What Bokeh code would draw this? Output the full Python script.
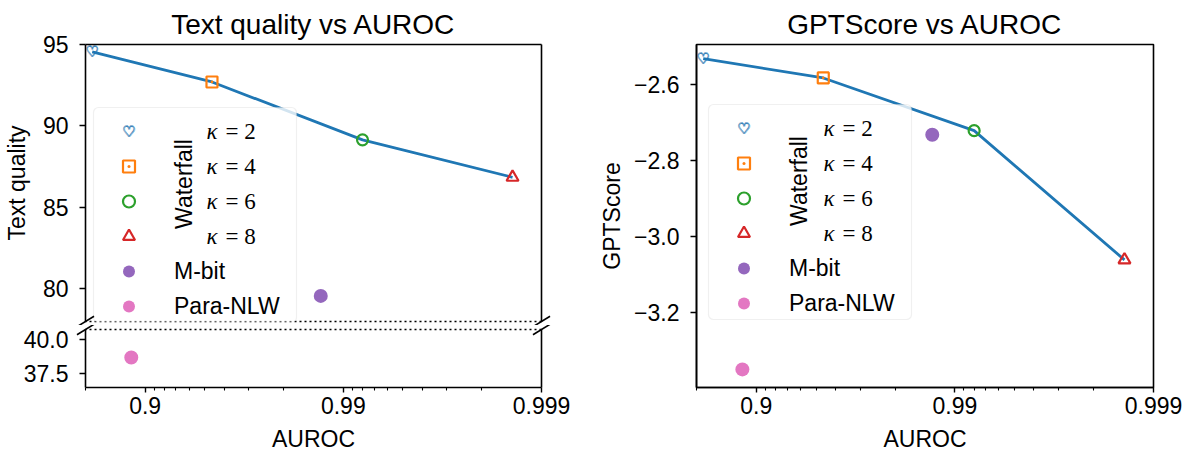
import math
from bokeh.plotting import figure
from bokeh.layouts import row, column
from bokeh.models import (Range1d, FixedTicker, CustomJSTickFormatter, LinearAxis,
                          Legend, LegendItem, Label, BoxAnnotation)
from bokeh.core.properties import value
from bokeh.embed import file_html
from bokeh.resources import INLINE

# ---------------- data ----------------
kappa = [2, 4, 6, 8]
waterfall_auroc = [0.815, 0.954, 0.992, 0.9986]
waterfall_text_quality = [94.55, 92.70, 89.15, 86.85]
waterfall_gptscore = [-2.531, -2.582, -2.721, -3.062]

mbit_auroc = [0.987]
mbit_text_quality = [79.57]
mbit_gptscore = [-2.732]

paranlw_auroc = [0.8825]
paranlw_text_quality = [38.68]
paranlw_gptscore = [-3.351]

auroc_limits = [0.8, 0.999]
auroc_major_ticks = [0.9, 0.99, 0.999]
text_quality_ticks_upper = [80, 85, 90, 95]
text_quality_ticks_lower = [37.5, 40.0]
text_quality_limits_upper = [78.0, 95.0]
text_quality_limits_lower = [36.47, 40.74]
gptscore_ticks = [-3.2, -3.0, -2.8, -2.6]
gptscore_limits = [-3.3987, -2.4937]

titles = ["Text quality vs AUROC", "GPTScore vs AUROC"]
y_labels = ["Text quality", "GPTScore"]
x_label = "AUROC"
legend_kappa_labels = [f"= {k}" for k in kappa]
legend_group_label = "Waterfall"
legend_other_labels = ["M-bit", "Para-NLW"]

# ---------------- style ----------------
FONT = "Liberation Sans"
SERIF = "Liberation Serif"
BLUE, ORANGE, GREEN, RED, PURPLE, PINK = ("#1f77b4", "#ff7f0e", "#2ca02c",
                                          "#d62728", "#9467bd", "#e377c2")
HEART_OFFSETS = [(-0.6, 0.0), (0.6, 0.0), (0.0, -0.6), (0.0, 0.6)]
HEART_SIZE = "15px"


def one_minus(seq):
    # AUROC is shown on a reversed log scale of (1 - AUROC)
    return [round(1.0 - v, 8) for v in seq]


X_RANGE = Range1d(start=one_minus([auroc_limits[0]])[0], end=one_minus([auroc_limits[1]])[0])
X_CENTER = math.sqrt(X_RANGE.start * X_RANGE.end)   # middle of the frame on the log scale
X_MAJOR = one_minus(auroc_major_ticks)
X_MINOR = [round(k * 10.0 ** -d, 8) for d in (1, 2, 3) for k in range(2, 10)]
X_FMT = CustomJSTickFormatter(code="return String(parseFloat((1 - tick).toFixed(4)));")


def base_figure(width, height, y_limits, borders, title=None):
    l, r, t, b = borders
    p = figure(width=width, height=height, x_axis_type="log", x_range=X_RANGE,
               y_range=Range1d(*y_limits), output_backend="svg", toolbar_location=None,
               min_border_left=l, min_border_right=r, min_border_top=t, min_border_bottom=b,
               title=title)
    p.xgrid.visible = False
    p.ygrid.visible = False
    p.outline_line_color = None
    p.background_fill_color = "white"
    p.border_fill_color = "white"
    if title:
        p.title.text_font = FONT
        p.title.text_font_size = "28px"
        p.title.text_font_style = "normal"
        p.title.text_color = "black"
        p.title.align = "center"
        p.title.standoff = 9
    return p


def style_axis(ax, tick_out=6, standoff=11, label_standoff=10):
    ax.axis_line_color = "black"
    ax.axis_line_width = 1.6
    ax.major_tick_line_color = "black"
    ax.major_tick_line_width = 1.4
    ax.major_tick_out = tick_out
    ax.major_tick_in = 0
    ax.minor_tick_line_color = "black"
    ax.minor_tick_line_width = 1.1
    ax.minor_tick_out = 3
    ax.minor_tick_in = 0
    ax.major_label_standoff = standoff
    ax.major_label_text_font = FONT
    ax.major_label_text_font_size = "23px"
    ax.major_label_text_color = "black"
    ax.axis_label_text_font = FONT
    ax.axis_label_text_font_size = "23px"
    ax.axis_label_text_font_style = "normal"
    ax.axis_label_text_color = "black"
    ax.axis_label_standoff = label_standoff


def spine_only(ax, dash=None):
    ax.ticker = FixedTicker(ticks=[])
    ax.major_tick_line_color = None
    ax.minor_tick_line_color = None
    ax.major_tick_out = 0
    ax.minor_tick_out = 0
    ax.major_label_standoff = 0
    ax.major_label_text_font_size = "0px"
    ax.axis_line_color = "black"
    ax.axis_line_width = 1.6
    if dash:
        ax.axis_line_dash = dash


def add_spine(p, place, dash=None):
    ax = LinearAxis()
    spine_only(ax, dash)
    p.add_layout(ax, place)


def x_axis(p):
    ax = p.below[0]
    style_axis(ax, tick_out=5, standoff=4, label_standoff=4)
    ax.ticker = FixedTicker(ticks=X_MAJOR, minor_ticks=X_MINOR)
    ax.formatter = X_FMT
    # axis title, drawn below the tick labels (kept unclipped at overlay level)
    p.text(x=[X_CENTER], y=[p.y_range.start], text=[x_label], y_offset=51,
           text_font=value(FONT), text_font_size="23px", text_color="black",
           text_align="center", text_baseline="alphabetic", level="overlay")


def draw_series(p, wf_y, mb_y, pn_y, with_heart=True):
    xw = one_minus(waterfall_auroc)
    p.line(xw, wf_y, line_color=BLUE, line_width=2.8)
    heart = None
    if with_heart:
        for dx, dy in HEART_OFFSETS:
            h = p.text(x=xw[0:1], y=wf_y[0:1], text=["\u2661"], text_font=value("DejaVu Sans"),
                       text_font_size=HEART_SIZE, text_color=BLUE, x_offset=dx, y_offset=dy,
                       text_align="center", text_baseline="middle")
            heart = heart or h
    sq = p.scatter(xw[1:2], wf_y[1:2], marker="square_dot", size=11, line_color=ORANGE,
                   fill_color=None, line_width=2.2)
    ci = p.scatter(xw[2:3], wf_y[2:3], marker="circle", size=11, line_color=GREEN,
                   fill_color=None, line_width=2.2)
    tr = p.scatter(xw[3:4], wf_y[3:4], marker="triangle", size=12, line_color=RED,
                   fill_color=None, line_width=2.2)
    mb = p.scatter(one_minus(mbit_auroc), mb_y, marker="circle", size=14,
                   fill_color=PURPLE, line_color=None)
    pn = p.scatter(one_minus(paranlw_auroc), pn_y, marker="circle", size=14,
                   fill_color=PINK, line_color=None)
    return [heart, sq, ci, tr, mb, pn]


def add_legend(p, rends, leg_x, leg_y, kappa_dx):
    GW, GH, SP = 59, 30, 5
    items = [LegendItem(label=" ", renderers=[r]) for r in rends[:4]]
    items += [LegendItem(label=lab, renderers=[r]) for lab, r in zip(legend_other_labels, rends[4:])]
    n = len(items)
    height = n * GH + (n - 1) * SP
    rows = [leg_y + height - GH / 2 - i * (GH + SP) for i in range(n)]
    p.add_layout(BoxAnnotation(left=leg_x - 6, right=leg_x + 197, top=rows[0] + 24,
                               bottom=rows[-1] - 16, left_units="screen", right_units="screen",
                               top_units="screen", bottom_units="screen",
                               fill_color="white", fill_alpha=0.8, line_color="#cccccc",
                               line_width=1.2, border_radius=5))
    leg = Legend(items=items, location=(leg_x, leg_y), glyph_width=GW, glyph_height=GH,
                 label_height=GH, spacing=SP, padding=0, margin=0, label_standoff=16,
                 background_fill_alpha=0, border_line_color=None,
                 label_text_font=FONT, label_text_font_size="23px", label_text_color="black")
    p.add_layout(leg)
    for dx, dy in HEART_OFFSETS:
        p.add_layout(Label(x=leg_x + GW / 2, y=rows[0], x_units="screen", y_units="screen",
                           x_offset=dx, y_offset=dy,
                           text="\u2661", text_font="DejaVu Sans", text_font_size=HEART_SIZE,
                           text_color=BLUE, text_align="center", text_baseline="middle"))
    for i, lab in enumerate(legend_kappa_labels):
        p.add_layout(Label(x=leg_x + kappa_dx, y=rows[i], x_units="screen", y_units="screen",
                           text="\u03ba", text_font=SERIF, text_font_size="23px",
                           text_font_style="italic", text_color="black",
                           text_align="left", text_baseline="middle"))
        p.add_layout(Label(x=leg_x + kappa_dx + 19, y=rows[i], x_units="screen", y_units="screen",
                           text=lab, text_font=SERIF, text_font_size="23px",
                           text_color="black", text_align="left", text_baseline="middle"))
    p.add_layout(Label(x=leg_x + 84.5, y=(rows[0] + rows[3]) / 2, x_units="screen",
                       y_units="screen", text=legend_group_label, angle=math.pi / 2,
                       text_font=FONT, text_font_size="23px", text_color="black",
                       text_align="center", text_baseline="middle"))


def break_marks(p, y_edge):
    p.scatter(x=[X_RANGE.start, X_RANGE.end], y=[y_edge, y_edge], marker="dash", size=20,
              angle=0.55, line_color="black", line_width=1.6, level="overlay")


# ---------------- left: broken y axis ----------------
top = base_figure(594, 325, text_quality_limits_upper, (84, 53, 44, 4), title=titles[0])
spine_only(top.below[0], dash="2 3")
add_spine(top, "above")
add_spine(top, "right")
style_axis(top.left[0])
top.left[0].ticker = FixedTicker(ticks=text_quality_ticks_upper)
top.left[0].minor_tick_line_color = None
top.left[0].axis_label = y_labels[0]
r_top = draw_series(top, waterfall_text_quality, mbit_text_quality, paranlw_text_quality)
break_marks(top, text_quality_limits_upper[0])
add_legend(top, r_top, 14, 0, 107)

bot = base_figure(594, 127, text_quality_limits_lower, (84, 53, 4, 65))
add_spine(bot, "above", dash="2 3")
add_spine(bot, "right")
style_axis(bot.left[0])
bot.left[0].ticker = FixedTicker(ticks=text_quality_ticks_lower)
bot.left[0].formatter = CustomJSTickFormatter(code="return tick.toFixed(1);")
bot.left[0].minor_tick_line_color = None
x_axis(bot)
draw_series(bot, waterfall_text_quality, mbit_text_quality, paranlw_text_quality,
            with_heart=False)
break_marks(bot, text_quality_limits_lower[1])

# ---------------- right ----------------
rt = base_figure(596, 452, gptscore_limits, (102, 37, 44, 65), title=titles[1])
rt.outline_line_color = "black"
rt.outline_line_width = 1.6
style_axis(rt.left[0], label_standoff=6)
rt.left[0].ticker = FixedTicker(ticks=gptscore_ticks)
rt.left[0].formatter = CustomJSTickFormatter(
    code="return (tick < 0 ? '\u2212' : '') + Math.abs(tick).toFixed(1);")
rt.left[0].minor_tick_line_color = None
rt.left[0].axis_label = y_labels[1]
x_axis(rt)
r_rt = draw_series(rt, waterfall_gptscore, mbit_gptscore, paranlw_gptscore)
add_legend(rt, r_rt, 18, 69, 109)

layout = row(column(top, bot), rt)
open("out.html", "w").write(file_html(layout, INLINE))
